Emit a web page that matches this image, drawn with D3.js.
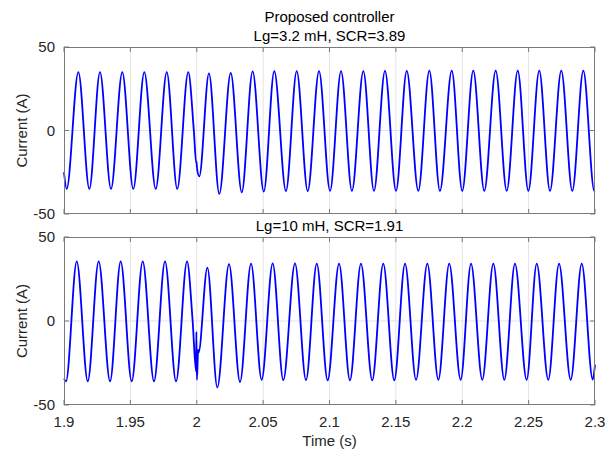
<!DOCTYPE html>
<html>
<head>
<meta charset="utf-8">
<script src="https://cdn.jsdelivr.net/npm/d3@7"></script>
<style>
  body { margin: 0; background: #fff; }
  svg { display: block; font-family: "Liberation Sans", Arial, sans-serif; }
</style>
</head>
<body>
<svg id="chart"></svg>
<script>
// x ticks / y ticks
var timeTicks = [1.9, 1.95, 2, 2.05, 2.1, 2.15, 2.2, 2.25, 2.3];
var currentTicks = [-50, 0, 50];

// Lg=3.2 mH : extrema of the grid current
var topTime = [1.9, 1.9020, 1.9108, 1.9191, 1.9271, 1.9354, 1.9439, 1.9522, 1.9605, 1.9691, 1.9774, 1.9853, 1.9936,
  1.9978, 1.9996, 1.9998, 2.0001, 2.0019,
  2.0092, 2.0170, 2.0256, 2.0339, 2.0421, 2.0505, 2.0584, 2.0672, 2.0753, 2.0836, 2.0921, 2.1004,
  2.1087, 2.1169, 2.1255, 2.1335, 2.1418, 2.1501, 2.1582, 2.1669, 2.1752, 2.1832, 2.1921, 2.2000,
  2.2083, 2.2166, 2.2252, 2.2335, 2.2418, 2.2498, 2.2580, 2.2661, 2.2746, 2.2829, 2.2912, 2.2995, 2.3];
var topCurrent = [-25, -35, 35, -35, 35, -35, 35, -35, 35, -35, 35, -35, 35,
  0, -19.5, -18.5, -22, -27.5,
  34.2, -38, 34.5, -37, 35.4, -36.6, 35.6, -36.3, 35.6, -36.3, 35.6, -36.2,
  35.6, -36.2, 35.6, -36.2, 35.7, -36.2, 35.7, -36.2, 35.8, -36.2, 35.8, -36.2,
  35.8, -36.2, 35.8, -36.2, 35.8, -36.2, 35.8, -36.2, 35.8, -36.2, 35.8, -36.2, -36.1];

// Lg=10 mH
var bottomTime = [1.9, 1.9015, 1.9096, 1.9179, 1.9261, 1.9347, 1.9427, 1.9510, 1.9593, 1.9678, 1.9761, 1.9844, 1.9927,
  1.9969, 1.9995, 1.9997, 2.0001, 2.0011, 2.0013,
  2.0080, 2.0155, 2.0243, 2.0326, 2.0409, 2.0489, 2.0572, 2.0652, 2.0740, 2.0823, 2.0904, 2.0986,
  2.1072, 2.1154, 2.1237, 2.1322, 2.1405, 2.1488, 2.1569, 2.1652, 2.1737, 2.1820, 2.1902, 2.1988,
  2.2066, 2.2151, 2.2234, 2.2317, 2.2397, 2.2485, 2.2561, 2.2648, 2.2729, 2.2817, 2.2900, 2.2983, 2.3];
var bottomCurrent = [-34.3, -35.9, 35.5, -35.9, 35.5, -35.9, 35.5, -35.9, 35.5, -35.9, 35.5, -35.9, 35.5,
  0, -30, -6.5, -35, -17, -19,
  31.8, -39.6, 33.8, -36.3, 34.2, -35, 34.3, -35.2, 34.3, -35.2, 34.2, -35.3,
  34.2, -35.3, 34.2, -35.3, 34.2, -35.3, 34.2, -35.1, 34.2, -35, 34.2, -35,
  34.2, -35, 34.2, -35, 34.2, -35, 34.2, -35, 34.2, -35, 34.2, -34.9, -26];

var width = 611, height = 451;
var left = 64, right = 595;
var svg = d3.select('#chart').attr('width', width).attr('height', height);

var x = d3.scaleLinear().domain([1.9, 2.3]).range([left, right]);

var axisColor = '#7a7a7a', textColor = '#262626', gridColor = '#e3e3e3';
var fs = '15px';

function drawPanel(top, bottom, time, current, titleLines) {
  var y = d3.scaleLinear().domain([-50, 50]).range([bottom, top]);
  var g = svg.append('g');

  // grid
  g.selectAll('line.vgrid').data(timeTicks.slice(1, -1)).enter().append('line')
    .attr('x1', d => x(d)).attr('x2', d => x(d))
    .attr('y1', top).attr('y2', bottom)
    .attr('stroke', gridColor).attr('stroke-width', 1);
  g.append('line')
    .attr('x1', left).attr('x2', right).attr('y1', y(0)).attr('y2', y(0))
    .attr('stroke', gridColor).attr('stroke-width', 1);

  // waveform
  var line = d3.line()
    .curve(d3.curveMonotoneX)
    .x((d, i) => x(time[i]))
    .y(d => y(d));
  g.append('path')
    .datum(current)
    .attr('fill', 'none')
    .attr('stroke', '#0000ff')
    .attr('stroke-width', 1.8)
    .attr('stroke-linejoin', 'round')
    .attr('d', line);

  // ticks, inward on all four sides
  var tl = 5;
  timeTicks.forEach(t => {
    g.append('line').attr('x1', x(t)).attr('x2', x(t)).attr('y1', bottom).attr('y2', bottom - tl).attr('stroke', axisColor);
    g.append('line').attr('x1', x(t)).attr('x2', x(t)).attr('y1', top).attr('y2', top + tl).attr('stroke', axisColor);
  });
  currentTicks.forEach(v => {
    g.append('line').attr('x1', left).attr('x2', left + tl).attr('y1', y(v)).attr('y2', y(v)).attr('stroke', axisColor);
    g.append('line').attr('x1', right).attr('x2', right - tl).attr('y1', y(v)).attr('y2', y(v)).attr('stroke', axisColor);
    g.append('text')
      .attr('x', left - 9).attr('y', y(v)).attr('dy', '0.35em')
      .attr('text-anchor', 'end').attr('fill', textColor)
      .style('font-size', fs)
      .text(v);
  });

  g.append('rect')
    .attr('x', left + 0.5).attr('y', top + 0.5)
    .attr('width', right - left - 1).attr('height', bottom - top - 1)
    .attr('fill', 'none').attr('stroke', axisColor);

  // y label
  g.append('text')
    .attr('transform', 'translate(27,' + (top + bottom) / 2 + ') rotate(-90)')
    .attr('text-anchor', 'middle').attr('fill', textColor)
    .style('font-size', fs)
    .text('Current (A)');

  // titles
  titleLines.forEach((s, i) => {
    g.append('text')
      .attr('x', (left + right) / 2)
      .attr('y', top - 6 - (titleLines.length - 1 - i) * 19)
      .attr('text-anchor', 'middle').attr('fill', '#000')
      .style('font-size', fs)
      .text(s);
  });
  return y;
}

drawPanel(47, 214, topTime, topCurrent, ['Proposed controller', 'Lg=3.2 mH, SCR=3.89']);
drawPanel(237, 405, bottomTime, bottomCurrent, ['Lg=10 mH, SCR=1.91']);

// x tick labels
svg.selectAll('text.xt').data(timeTicks).enter().append('text')
  .attr('x', d => x(d)).attr('y', 427)
  .attr('text-anchor', 'middle').attr('fill', textColor)
  .style('font-size', fs)
  .text(d => d);

svg.append('text')
  .attr('x', (left + right) / 2).attr('y', 446)
  .attr('text-anchor', 'middle').attr('fill', textColor)
  .style('font-size', fs)
  .text('Time (s)');
</script>
</body>
</html>
